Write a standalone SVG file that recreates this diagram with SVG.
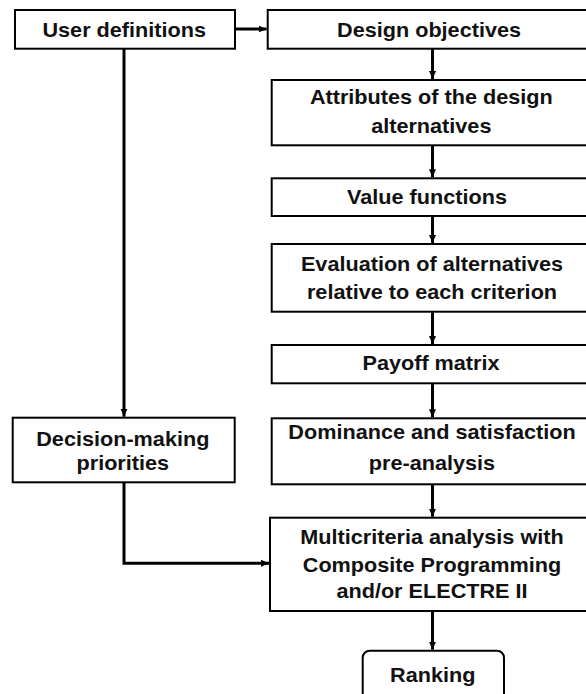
<svg xmlns="http://www.w3.org/2000/svg" width="586" height="694" viewBox="0 0 586 694">
<style>
.box{fill:#fff;stroke:#000;stroke-width:2}
.t{font-family:"Liberation Sans",Arial,sans-serif;font-weight:bold;font-size:19.5px;text-anchor:middle;fill:#111}
.c{fill:none;stroke:#000;stroke-width:3}
</style>
<defs>
<marker id="ah" markerUnits="userSpaceOnUse" markerWidth="10" markerHeight="10" refX="8" refY="4" orient="auto">
<path d="M0,0.5 L8,4 L0,7.5 Z" fill="#000"/>
</marker>
</defs>
<rect width="586" height="694" fill="#fff"/>
<g id="connectors">
<path class="c" d="M235,29 H266.5" marker-end="url(#ah)"/>
<path class="c" d="M432.5,48.7 V79" marker-end="url(#ah)"/>
<path class="c" d="M432.5,145.3 V177.3" marker-end="url(#ah)"/>
<path class="c" d="M432.5,216 V243" marker-end="url(#ah)"/>
<path class="c" d="M432.5,311.7 V344" marker-end="url(#ah)"/>
<path class="c" d="M432.5,383.3 V417.3" marker-end="url(#ah)"/>
<path class="c" d="M432.5,484.3 V516.7" marker-end="url(#ah)"/>
<path class="c" d="M432.5,611 V649.7" marker-end="url(#ah)"/>
<path class="c" d="M124,48.7 V416.7" marker-end="url(#ah)"/>
<path class="c" d="M124,482.3 V563.3 H269" marker-end="url(#ah)"/>
</g>
<g id="user-definitions">
<rect class="box" x="15" y="10" width="220" height="38.7"/>
<text class="t" transform="translate(124.2,37) scale(1.11,1)">User definitions</text>
</g>
<g id="design-objectives">
<rect class="box" x="267.7" y="10" width="330" height="38.7"/>
<text class="t" transform="translate(429,37) scale(1.11,1)">Design objectives</text>
</g>
<g id="attributes">
<rect class="box" x="271.7" y="80" width="330" height="65.3"/>
<text class="t" transform="translate(431.3,104.3) scale(1.11,1)"><tspan x="0" y="0">Attributes of the design</tspan><tspan x="0" y="28.4">alternatives</tspan></text>
</g>
<g id="value-functions">
<rect class="box" x="271.7" y="178.3" width="330" height="37.7"/>
<text class="t" transform="translate(427,203.5) scale(1.11,1)">Value functions</text>
</g>
<g id="evaluation">
<rect class="box" x="271.7" y="244" width="330" height="67.7"/>
<text class="t" transform="translate(432,270.7) scale(1.11,1)"><tspan x="0" y="0">Evaluation of alternatives</tspan><tspan x="0" y="28.6">relative to each criterion</tspan></text>
</g>
<g id="payoff-matrix">
<rect class="box" x="271.7" y="345" width="330" height="38.3"/>
<text class="t" transform="translate(431,370) scale(1.11,1)">Payoff matrix</text>
</g>
<g id="dominance">
<rect class="box" x="271.7" y="418.3" width="330" height="66"/>
<text class="t" transform="translate(432,438.5) scale(1.11,1)"><tspan x="0" y="0">Dominance and satisfaction</tspan><tspan x="0" y="32">pre-analysis</tspan></text>
</g>
<g id="decision-making">
<rect class="box" x="12.7" y="417.7" width="222" height="64.6"/>
<text class="t" transform="translate(122.8,445.7) scale(1.11,1)"><tspan x="0" y="0">Decision-making</tspan><tspan x="0" y="24.3">priorities</tspan></text>
</g>
<g id="multicriteria">
<rect class="box" x="270" y="517.7" width="330" height="93.3"/>
<text class="t" transform="translate(432,544) scale(1.11,1)"><tspan x="0" y="0">Multicriteria analysis with</tspan><tspan x="0" y="27.8">Composite Programming</tspan><tspan x="0" y="54.5">and/or ELECTRE II</tspan></text>
</g>
<g id="ranking">
<rect class="box" x="362.7" y="650.7" width="141.3" height="60" rx="7" ry="7"/>
<text class="t" transform="translate(432.8,682.3) scale(1.11,1)">Ranking</text>
</g>
</svg>
